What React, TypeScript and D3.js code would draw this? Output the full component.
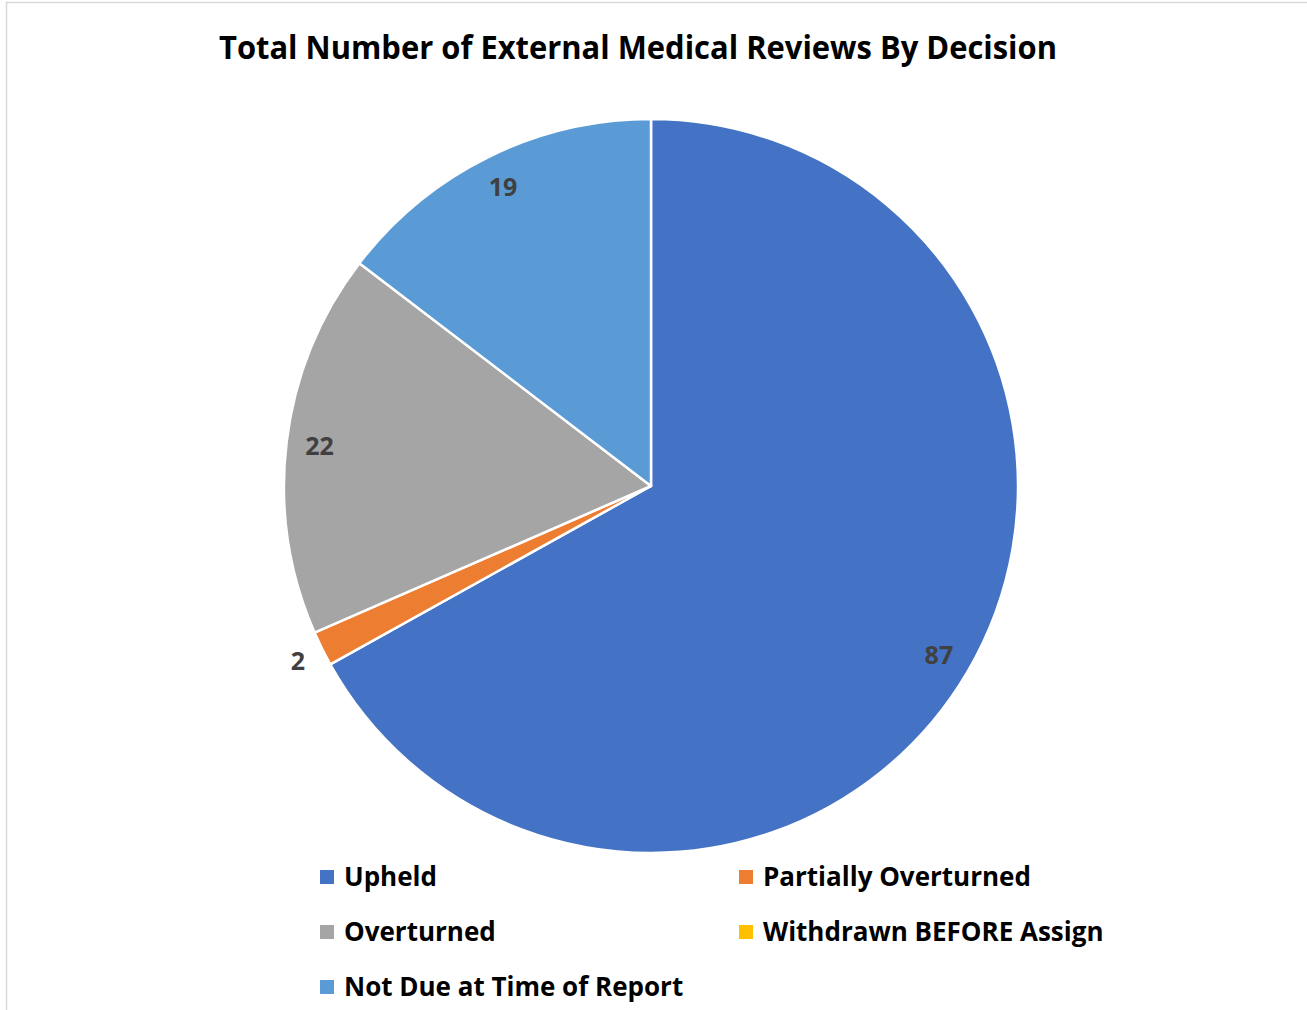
import React from "react";
import * as d3 from "d3";

const categories = ["Upheld", "Partially Overturned", "Overturned", "Withdrawn BEFORE Assign", "Not Due at Time of Report"];
const values = [87, 2, 22, 0, 19];
const colors = ["#4472C4", "#ED7D31", "#A5A5A5", "#FFC000", "#5B9BD5"];
const title = "Total Number of External Medical Reviews By Decision";

const W = 1307;
const H = 1010;
const cx = 651;
const cy = 486;
const R = 367;
const FONT = "'Open Sans', Lato, sans-serif";

export default function App() {
  const data = categories.map((c, i) => ({ name: c, value: values[i], color: colors[i] }));
  const pie = d3.pie<any>().sort(null).value((d: any) => d.value);
  const arcs = pie(data);
  const arcGen = d3.arc<any>().innerRadius(0).outerRadius(R);
  const labelIn = d3.arc<any>().innerRadius(334).outerRadius(334);
  const labelOut = d3.arc<any>().innerRadius(394).outerRadius(394);

  const legendCols = [320, 739];
  const legendRows = [877, 932, 987];

  return (
    <svg width={W} height={H} style={{ position: "absolute", left: 0, top: 0 }}>
      <rect x={0} y={0} width={W} height={H} fill="#fff" />
      <rect x={6.5} y={2.5} width={W + 10} height={H + 10} fill="none" stroke="#d9d9d9" strokeWidth={1.5} />
      <text x={638} y={59} textAnchor="middle" fontFamily={FONT} fontWeight="bold" fontSize={32} fill="#000" textLength={838} lengthAdjust="spacingAndGlyphs">
        {title}
      </text>
      <g transform={`translate(${cx},${cy})`}>
        {arcs.map((a, i) =>
          a.value > 0 ? (
            <path key={i} d={arcGen(a) as string} fill={a.data.color} stroke="#fff" strokeWidth={2.5} strokeLinejoin="round" />
          ) : null
        )}
        {arcs.map((a, i) => {
          if (a.value <= 0) return null;
          const small = (a.endAngle - a.startAngle) < 0.2;
          const [x, y] = (small ? labelOut : labelIn).centroid(a);
          return (
            <text key={"l" + i} x={x} y={y} dy="0.36em" textAnchor="middle" fontFamily={FONT} fontWeight="bold" fontSize={25} fill="#404040">
              {a.value}
            </text>
          );
        })}
      </g>
      {data.map((d, i) => {
        const col = i % 2;
        const row = Math.floor(i / 2);
        const x = legendCols[col];
        const y = legendRows[row];
        return (
          <g key={"lg" + i}>
            <rect x={x} y={y - 7} width={14} height={14} fill={d.color} />
            <text x={x + 24} y={y} dy="0.36em" fontFamily={FONT} fontWeight="bold" fontSize={26} fill="#000">
              {d.name}
            </text>
          </g>
        );
      })}
    </svg>
  );
}
